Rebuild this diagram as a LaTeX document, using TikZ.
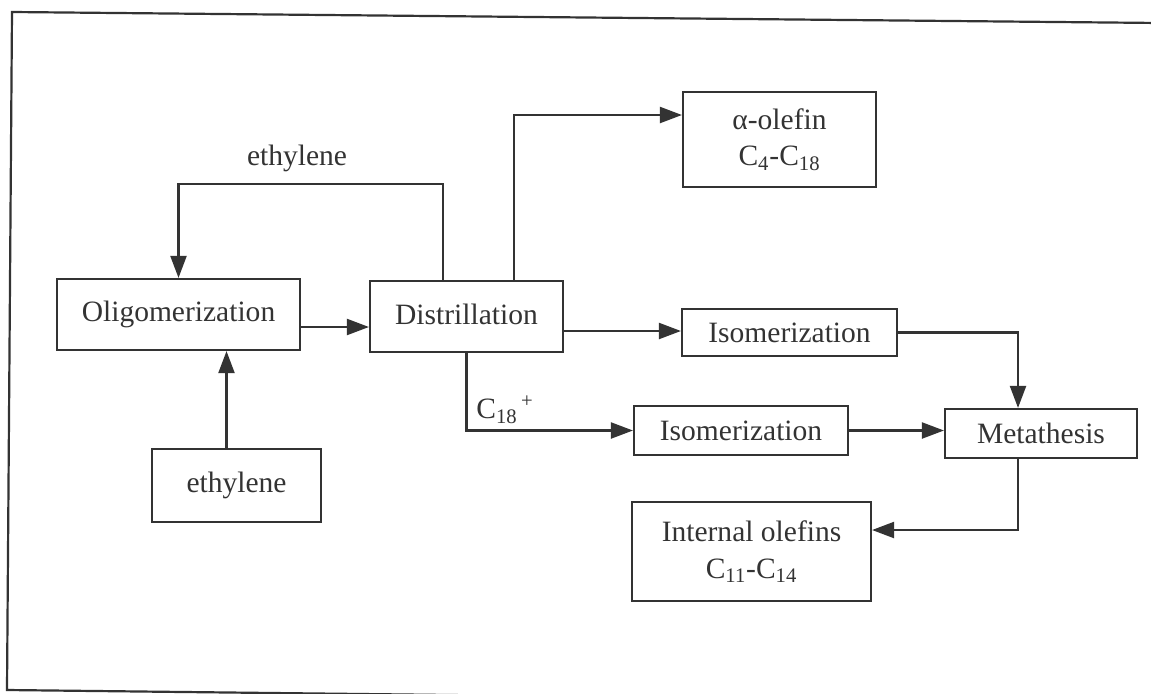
\documentclass[tikz,border=0pt]{standalone}
\usepackage{fontspec}
\setmainfont{Liberation Serif}
\usetikzlibrary{arrows.meta}
\definecolor{ink}{HTML}{333333}

\begin{document}
\begin{tikzpicture}[x=0.02cm, y=-0.02cm, >={Triangle[length=0.44cm, width=0.32cm]},
    color=ink, line width=1.25pt,
    unit/.style={draw, align=center, inner sep=0pt,
      font=\fontsize{16.8}{21}\selectfont},
    lbl/.style={inner sep=0pt, font=\fontsize{16.8}{21}\selectfont}]
  \useasboundingbox (0,0) rectangle (1151,693);
  \clip (0,0) rectangle (1151,693);
  % frame of the scanned page
  \draw (1160,23) -- (12,12) -- (7,690) -- (1160,703);
  % units
  \node[unit, minimum width=4.86cm, minimum height=1.42cm] (olig) at (178.5,314.5) {Oligomerization};
  \node[unit, minimum width=3.38cm, minimum height=1.46cm] (feed) at (236.5,485.5) {\raisebox{-0.12cm}{ethylene}};
  \node[unit, minimum width=3.86cm, minimum height=1.42cm] (dist) at (466.5,316.5) {\raisebox{0.1cm}{Distrillation}};
  \node[unit, minimum width=3.86cm, minimum height=1.90cm] (alpha) at (779.5,139.5) {α-olefin\\C\textsubscript{4}-C\textsubscript{18}};
  \node[unit, minimum width=4.30cm, minimum height=0.94cm] (isoA) at (789.5,332.5) {Isomerization};
  \node[unit, minimum width=4.28cm, minimum height=0.98cm] (isoB) at (741,430.5) {Isomerization};
  \node[unit, minimum width=3.84cm, minimum height=0.98cm] (meta) at (1041,433.5) {Metathesis};
  \node[unit, minimum width=4.78cm, minimum height=1.98cm] (internal) at (751.5,551.5) {Internal olefins\\C\textsubscript{11}-C\textsubscript{14}};
  % feed and recycle
  \draw[->] ([xshift=-0.2cm]feed.north) -- ([xshift=-0.2cm]feed.north |- olig.south);
  \draw[->] ([yshift=-0.25cm]olig.east) -- ([yshift=-0.25cm]olig.east -| dist.west);
  \coordinate (rec) at (300,184);
  \draw[->] ([xshift=-0.47cm]dist.north) |- (rec) -| (olig.north);
  \node[lbl, anchor=south] (recl) at (297,173) {ethylene};
  % products of the distillation
  \draw[->] ([xshift=0.95cm]dist.north) |- ([yshift=0.49cm]alpha.west);
  \draw[->] ([yshift=-0.29cm]dist.east) -- ([yshift=-0.29cm]dist.east -| isoA.west);
  \draw[->] (dist.south) |- (isoB.west);
  \node[lbl] (heavy) at (505,410) {C\textsubscript{18}\textsuperscript{\,+}};
  % metathesis
  \draw[->] (isoB.east) -- (isoB.east -| meta.west);
  \draw[->] (isoA.east) -| ([xshift=-0.46cm]meta.north);
  \draw[->] ([xshift=-0.46cm]meta.south) |- ([yshift=0.43cm]internal.east);
\end{tikzpicture}
\end{document}
